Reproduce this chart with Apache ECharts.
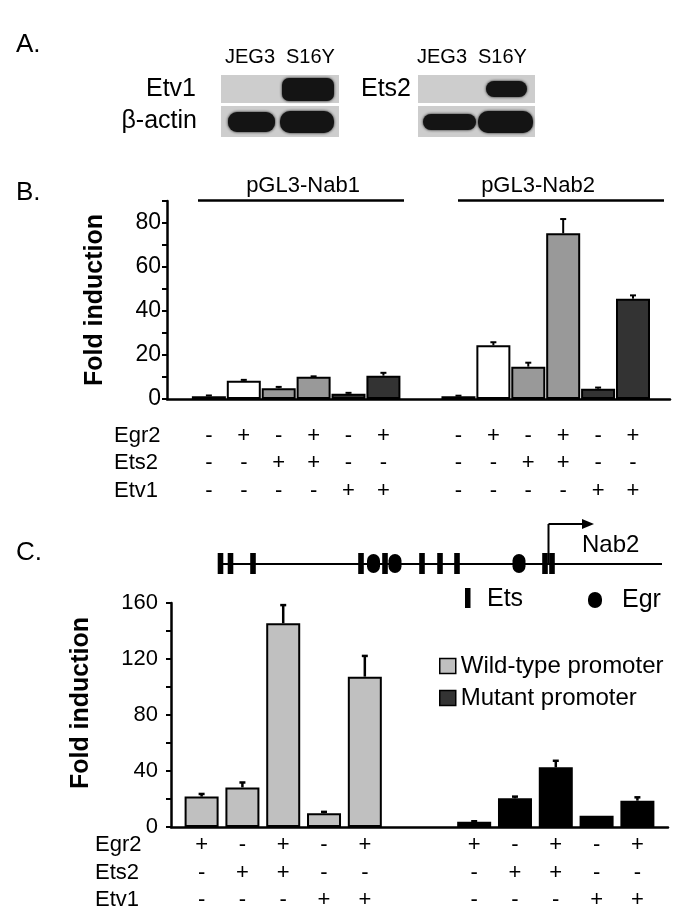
<!DOCTYPE html>
<html><head><meta charset="utf-8">
<script src="https://cdn.jsdelivr.net/npm/echarts@6/dist/echarts.min.js"></script>
<style>html,body{margin:0;padding:0;background:#fff}#c{width:685px;height:923px}</style>
</head><body><div id="c"></div>
<script>
const FONT = '"Liberation Sans", Arial, sans-serif';

// ---------- Panel B data ----------
const conditionsB = ['Control', 'Egr2', 'Ets2', 'Egr2+Ets2', 'Etv1', 'Egr2+Etv1'];
const nab1Values = [1.3, 8.3, 4.9, 10.1, 2.4, 10.6];
const nab1Errors = [0.3, 0.4, 0.6, 0.2, 0.4, 1.3];
const nab2Values = [1.3, 24.4, 14.7, 75.3, 4.7, 45.6];
const nab2Errors = [0.2, 1.4, 1.8, 6.5, 0.5, 1.5];
const groupLabelsB = ['pGL3-Nab1', 'pGL3-Nab2'];
const signRowNames = ['Egr2', 'Ets2', 'Etv1'];
const signsB = [
  ['-', '+', '-', '+', '-', '+'],
  ['-', '-', '+', '+', '-', '-'],
  ['-', '-', '-', '-', '+', '+']
];
const yTicksB = [0, 20, 40, 60, 80];

// ---------- Panel C data ----------
const wtValues = [21.7, 28.3, 145.5, 9.8, 107.4];
const wtErrors = [1.9, 3.5, 13.0, 1.0, 14.8];
const mutValues = [3.8, 20.5, 42.6, 8.1, 18.8];
const mutErrors = [0.3, 1.2, 4.7, 0, 2.4];
const signsC = [
  ['+', '-', '+', '-', '+'],
  ['-', '+', '+', '-', '-'],
  ['-', '-', '-', '+', '+']
];
const seriesNamesC = ['Wild-type promoter', 'Mutant promoter'];
const yTicksC = [0, 40, 80, 120, 160];

// ---------- styles / layout ----------
const barColorsB = ['#222222', '#ffffff', '#999999', '#999999', '#333333', '#333333'];
const GAP_B = 7.15;   // slot offset of second group in panel B
const GAP_C = 6.68;   // slot offset of second group in panel C

const posB1 = nab1Values.map((_, i) => i);
const posB2 = nab2Values.map((_, i) => i + GAP_B);
const posC1 = wtValues.map((_, i) => i);
const posC2 = mutValues.map((_, i) => i + GAP_C);

function errRender(capHalf, lw) {
  return function (params, api) {
    const x = api.value(0), v = api.value(1), e = api.value(2);
    if (!e) return null;
    const p0 = api.coord([x, v]);
    const p1 = api.coord([x, v + e]);
    return {
      type: 'group',
      children: [
        { type: 'line', shape: { x1: p0[0], y1: p0[1], x2: p1[0], y2: p1[1] }, style: { stroke: '#000', lineWidth: lw } },
        { type: 'line', shape: { x1: p1[0] - capHalf, y1: p1[1], x2: p1[0] + capHalf, y2: p1[1] }, style: { stroke: '#000', lineWidth: lw } }
      ]
    };
  };
}

const chart = echarts.init(document.getElementById('c'), null, { renderer: 'canvas' });

const axisLineStyle = { color: '#000', width: 2.5 };

chart.setOption({
  animation: false,
  backgroundColor: '#fff',
  textStyle: { fontFamily: FONT },
  grid: [
    { left: 167, top: 201, width: 503, height: 198 },
    { left: 171, top: 603, width: 497, height: 224 }
  ],
  xAxis: [
    { gridIndex: 0, type: 'value', min: -1.2, max: 13.21, axisLine: { show: true, onZero: false, lineStyle: axisLineStyle },
      axisTick: { show: false }, axisLabel: { show: false }, splitLine: { show: false } },
    { gridIndex: 1, type: 'value', min: -0.75, max: 11.43, axisLine: { show: true, onZero: false, lineStyle: axisLineStyle },
      axisTick: { show: false }, axisLabel: { show: false }, splitLine: { show: false } }
  ],
  yAxis: [
    { gridIndex: 0, type: 'value', min: 0, max: 90, interval: 10,
      name: 'Fold induction', nameLocation: 'middle', nameRotate: 90, nameGap: 59,
      nameTextStyle: { fontFamily: FONT, fontWeight: 'bold', fontSize: 25, color: '#000' },
      axisLine: { show: true, onZero: false, lineStyle: axisLineStyle },
      axisTick: { show: true, length: 5, lineStyle: { color: '#000', width: 2 } },
      axisLabel: { fontFamily: FONT, fontSize: 23, color: '#000', margin: 6,
        formatter: v => (yTicksB.indexOf(v) >= 0 ? String(v) : '') },
      splitLine: { show: false } },
    { gridIndex: 1, type: 'value', min: 0, max: 160, interval: 20,
      name: 'Fold induction', nameLocation: 'middle', nameRotate: 90, nameGap: 77,
      nameTextStyle: { fontFamily: FONT, fontWeight: 'bold', fontSize: 25, color: '#000', padding: [0, 0, 0, 24] },
      axisLine: { show: true, onZero: false, lineStyle: axisLineStyle },
      axisTick: { show: true, length: 5, lineStyle: { color: '#000', width: 2 } },
      axisLabel: { fontFamily: FONT, fontSize: 22, color: '#000', margin: 13,
        formatter: v => (yTicksC.indexOf(v) >= 0 ? String(v) : '') },
      splitLine: { show: false } }
  ],
  legend: {
    data: [
      { name: seriesNamesC[0], itemStyle: { color: '#c0c0c0', borderColor: '#000', borderWidth: 1.5 } },
      { name: seriesNamesC[1], itemStyle: { color: '#333333', borderColor: '#000', borderWidth: 1.5 } }
    ],
    orient: 'vertical', left: 434, top: 649, itemWidth: 16, itemHeight: 15, itemGap: 8,
    icon: 'rect',
    textStyle: { fontFamily: FONT, fontSize: 24, color: '#000' }
  },
  series: [
    { name: 'pGL3', type: 'bar', xAxisIndex: 0, yAxisIndex: 0, barWidth: 34, z: 2,
      itemStyle: { borderColor: '#000', borderWidth: 2 },
      data: posB1.map((p, i) => ({ value: [p, nab1Values[i]], itemStyle: { color: barColorsB[i] } }))
        .concat(posB2.map((p, i) => ({ value: [p, nab2Values[i]], itemStyle: { color: barColorsB[i] } }))) },
    { name: 'errB', type: 'custom', xAxisIndex: 0, yAxisIndex: 0, z: 3, encode: { x: 0, y: 1 },
      renderItem: errRender(3, 2),
      data: posB1.map((p, i) => [p, nab1Values[i], nab1Errors[i]])
        .concat(posB2.map((p, i) => [p, nab2Values[i], nab2Errors[i]])) },
    { name: seriesNamesC[0], type: 'bar', xAxisIndex: 1, yAxisIndex: 1, barWidth: 34, barGap: '-100%', z: 2,
      itemStyle: { color: '#c0c0c0', borderColor: '#000', borderWidth: 2 },
      data: posC1.map((p, i) => [p, wtValues[i]]) },
    { name: seriesNamesC[1], type: 'bar', xAxisIndex: 1, yAxisIndex: 1, barWidth: 34, barGap: '-100%', z: 2,
      itemStyle: { color: '#000000', borderColor: '#000', borderWidth: 2 },
      data: posC2.map((p, i) => [p, mutValues[i]]) },
    { name: 'errC', type: 'custom', xAxisIndex: 1, yAxisIndex: 1, z: 3, encode: { x: 0, y: 1 },
      renderItem: errRender(3, 2.5),
      data: posC1.map((p, i) => [p, wtValues[i], wtErrors[i]])
        .concat(posC2.map((p, i) => [p, mutValues[i], mutErrors[i]])) }
  ]
});

// ---------- graphics (annotations) ----------
function txt(text, x, y, size, align, opts) {
  opts = opts || {};
  return { type: 'text', x: x, y: y, z: 10, silent: true,
    style: { text: text, font: (opts.bold ? 'bold ' : '') + size + 'px ' + FONT, fill: '#000',
      align: align || 'left', verticalAlign: 'middle', textAlign: align || 'left', textVerticalAlign: 'middle' } };
}
function rect(x, y, w, h, fill, r, blur) {
  return { type: 'rect', z: 5, silent: true, shape: { x: x, y: y, width: w, height: h, r: r || 0 },
    style: { fill: fill, shadowBlur: blur || 0, shadowColor: fill } };
}
function line(x1, y1, x2, y2, w) {
  return { type: 'line', z: 5, silent: true, shape: { x1: x1, y1: y1, x2: x2, y2: y2 }, style: { stroke: '#000', lineWidth: w } };
}

const g = [];
// Panel A
g.push(txt('A.', 16, 45, 26));
g.push(txt('JEG3', 225, 57, 20), txt('S16Y', 286, 57, 20), txt('JEG3', 417, 57, 20), txt('S16Y', 478, 57, 20));
g.push(rect(221, 75, 118, 28, '#cdcdcd'), rect(221, 106, 118, 31, '#cdcdcd'));
g.push(rect(418, 75, 117, 28, '#cdcdcd'), rect(418, 106, 117, 31, '#cdcdcd'));
g.push(rect(282, 78, 52, 23, '#141414', 7, 3));
g.push(rect(228, 112, 47, 20, '#141414', 9, 3), rect(280, 111, 54, 22, '#141414', 10, 3));
g.push(rect(486, 81, 41, 16, '#141414', 8, 3));
g.push(rect(423, 114, 53, 16, '#141414', 8, 3), rect(478, 111, 55, 22, '#141414', 10, 3));
g.push(txt('Etv1', 196, 89, 25, 'right'), txt('β-actin', 197, 121, 25, 'right'), txt('Ets2', 411, 89, 25, 'right'));

// Panel B labels
g.push(txt('B.', 16, 193, 26));
g.push(line(198, 200.5, 404, 200.5, 2.5), line(458, 200.5, 664, 200.5, 2.5));
g.push(txt(groupLabelsB[0], 303, 186, 22, 'center'), txt(groupLabelsB[1], 538, 186, 22, 'center'));
const rowYB = [436, 463, 491];
const allPosB = posB1.concat(posB2);
signRowNames.forEach((nm, r) => {
  g.push(txt(nm, 114, rowYB[r], 22));
  allPosB.forEach((p, i) => {
    const px = chart.convertToPixel({ xAxisIndex: 0 }, p);
    g.push(txt(signsB[r][i % 6], px, rowYB[r], 22, 'center'));
  });
});

// Panel C labels and promoter diagram
g.push(txt('C.', 16, 553, 26));
g.push(line(218, 564, 662, 564, 2));
const etsSites = [220.5, 230.5, 253, 361, 385, 422, 440, 457, 545, 552];
etsSites.forEach(x => g.push(rect(x - 2.8, 553, 5.6, 21, '#000')));
const egrSites = [373.5, 395, 519];
egrSites.forEach(x => g.push(rect(x - 6.5, 554, 13, 19, '#000', 6.5)));
g.push(line(548.5, 564, 548.5, 524, 2), line(548.5, 524, 586, 524, 2));
g.push({ type: 'polygon', z: 5, silent: true, shape: { points: [[582, 519], [594, 524], [582, 529]] }, style: { fill: '#000' } });
g.push(txt('Nab2', 582, 545, 24));
g.push(rect(465, 588, 5.5, 20, '#000'), txt('Ets', 487, 599, 25));
g.push(rect(588, 592, 14, 16, '#000', 7), txt('Egr', 622, 600, 25));

const rowYC = [845, 873, 900];
const allPosC = posC1.concat(posC2);
signRowNames.forEach((nm, r) => {
  g.push(txt(nm, 95, rowYC[r], 22));
  allPosC.forEach((p, i) => {
    const px = chart.convertToPixel({ xAxisIndex: 1 }, p);
    g.push(txt(signsC[r][i % 5], px, rowYC[r], 22, 'center'));
  });
});

chart.setOption({ graphic: g });
</script>
</body></html>
